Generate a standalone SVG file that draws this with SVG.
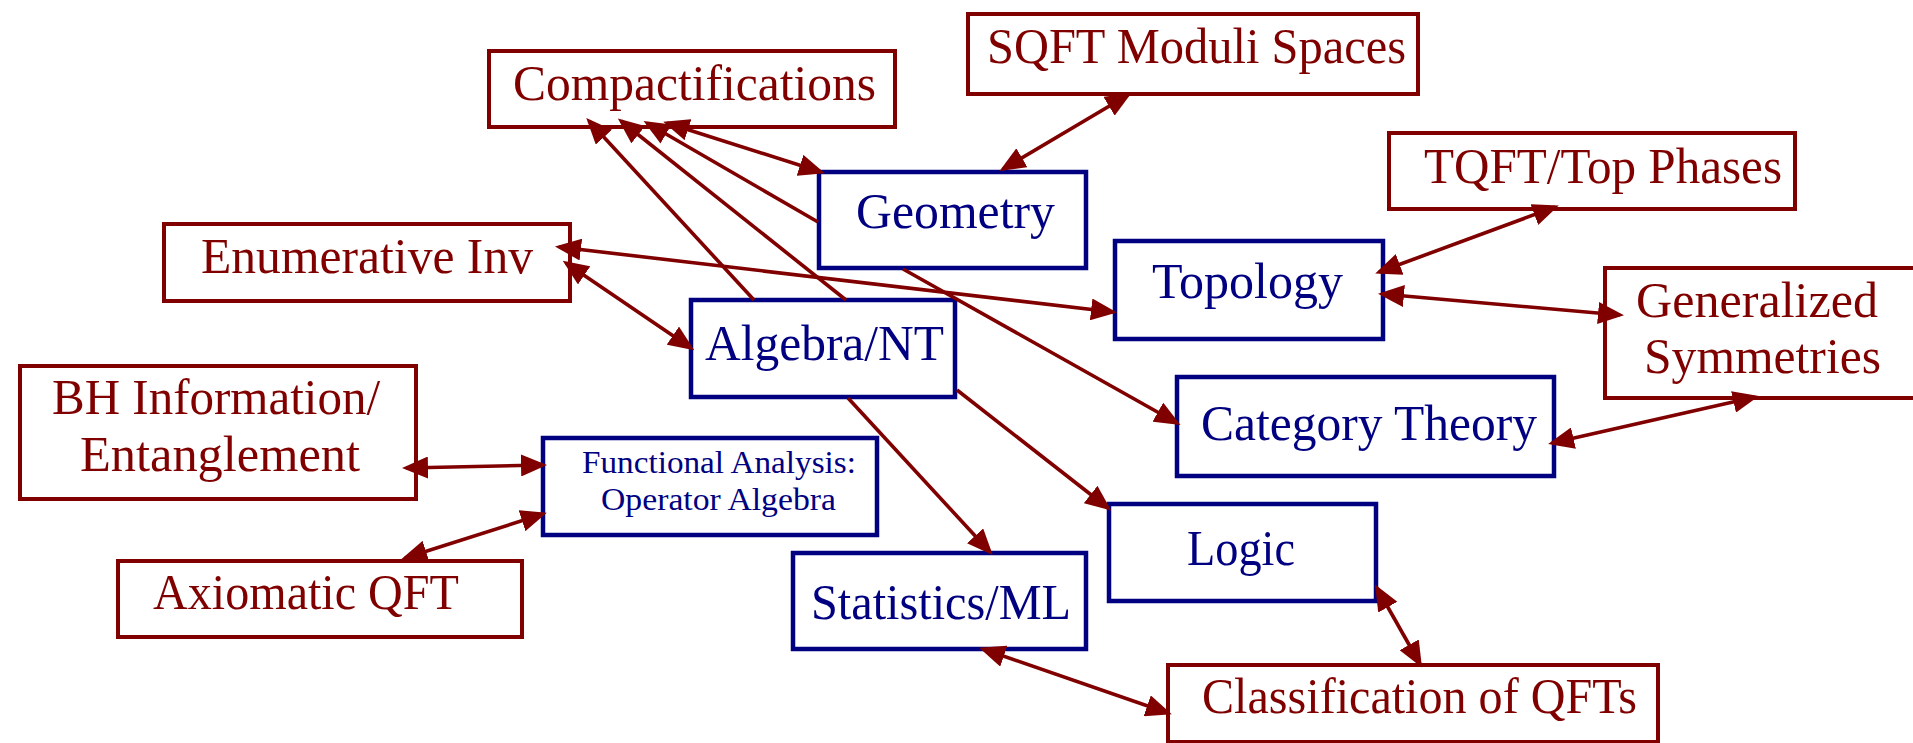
<svg xmlns="http://www.w3.org/2000/svg" width="1913" height="743" viewBox="0 0 1913 743">
<defs>
<style>
.rb{fill:#fff;stroke:#800000;stroke-width:4}
.bb{fill:#fff;stroke:#000080;stroke-width:4.5}
.rt{fill:#800000;font-family:"Liberation Serif","DejaVu Serif",serif;font-size:50px}
.bt{fill:#000080;font-family:"Liberation Serif","DejaVu Serif",serif;font-size:50px}
.st{font-size:31px}
.c{fill:none;stroke:#800000;stroke-width:3.6}
.s{marker-end:url(#ah)}
.d{marker-start:url(#ah);marker-end:url(#ah)}
</style>
<marker id="ah" markerUnits="userSpaceOnUse" viewBox="0 0 26 22" refX="22" refY="11" markerWidth="26" markerHeight="22" orient="auto-start-reverse">
<path d="M0,0 L26,11 L0,22 z" fill="#800000"/>
</marker>
</defs>
<rect width="1913" height="743" fill="#fff"/>
<g id="compactifications"><rect class="rb" x="489" y="51" width="406" height="76"/><text class="rt" x="513" y="100" textLength="363" lengthAdjust="spacingAndGlyphs">Compactifications</text></g>
<g id="sqft"><rect class="rb" x="968" y="14" width="450" height="80"/><text class="rt" x="987" y="63" textLength="419" lengthAdjust="spacingAndGlyphs">SQFT Moduli Spaces</text></g>
<g id="geometry"><rect class="bb" x="819" y="172" width="267" height="96"/><text class="bt" x="856" y="228" textLength="199" lengthAdjust="spacingAndGlyphs">Geometry</text></g>
<g id="enumerative"><rect class="rb" x="164" y="224" width="406" height="77"/><text class="rt" x="201" y="273" textLength="332" lengthAdjust="spacingAndGlyphs">Enumerative Inv</text></g>
<g id="algebra"><rect class="bb" x="691" y="300" width="264" height="97"/><text class="bt" x="705" y="360" textLength="239" lengthAdjust="spacingAndGlyphs">Algebra/NT</text></g>
<g id="tqft"><rect class="rb" x="1389" y="133" width="406" height="76"/><text class="rt" x="1424" y="183" textLength="358" lengthAdjust="spacingAndGlyphs">TQFT/Top Phases</text></g>
<g id="topology"><rect class="bb" x="1115" y="241" width="268" height="98"/><text class="bt" x="1152" y="298" textLength="191" lengthAdjust="spacingAndGlyphs">Topology</text></g>
<g id="generalized"><rect class="rb" x="1605" y="268" width="330" height="130"/><text class="rt" x="1636" y="317" textLength="242" lengthAdjust="spacingAndGlyphs">Generalized</text><text class="rt" x="1644" y="373" textLength="237" lengthAdjust="spacingAndGlyphs">Symmetries</text></g>
<g id="category"><rect class="bb" x="1177" y="377" width="377" height="99"/><text class="bt" x="1201" y="440" textLength="336" lengthAdjust="spacingAndGlyphs">Category Theory</text></g>
<g id="logic"><rect class="bb" x="1109" y="504" width="267" height="97"/><text class="bt" x="1187" y="565" textLength="108" lengthAdjust="spacingAndGlyphs">Logic</text></g>
<g id="statistics"><rect class="bb" x="793" y="553" width="293" height="96"/><text class="bt" x="811" y="619" textLength="260" lengthAdjust="spacingAndGlyphs">Statistics/ML</text></g>
<g id="classification"><rect class="rb" x="1168" y="665" width="490" height="77"/><text class="rt" x="1202" y="713" textLength="435" lengthAdjust="spacingAndGlyphs">Classification of QFTs</text></g>
<g id="bh"><rect class="rb" x="20" y="366" width="396" height="133"/><text class="rt" x="52" y="414" textLength="328" lengthAdjust="spacingAndGlyphs">BH Information/</text><text class="rt" x="80" y="471" textLength="280" lengthAdjust="spacingAndGlyphs">Entanglement</text></g>
<g id="functional"><rect class="bb" x="543" y="438" width="334" height="97"/><text class="bt st" x="582" y="473" textLength="274" lengthAdjust="spacingAndGlyphs">Functional Analysis:</text><text class="bt st" x="601" y="510" textLength="235" lengthAdjust="spacingAndGlyphs">Operator Algebra</text></g>
<g id="axiomatic"><rect class="rb" x="118" y="561" width="404" height="76"/><text class="rt" x="153" y="609" textLength="306" lengthAdjust="spacingAndGlyphs">Axiomatic QFT</text></g>
<g id="connectors">
<line class="c s" x1="754" y1="300" x2="589" y2="121"/>
<line class="c s" x1="846" y1="300" x2="621" y2="121"/>
<line class="c s" x1="818" y1="222" x2="647" y2="123"/>
<line class="c s" x1="903" y1="269" x2="1177" y2="423"/>
<line class="c s" x1="957" y1="390" x2="1108" y2="508"/>
<line class="c s" x1="848" y1="398" x2="990" y2="552"/>
<line class="c d" x1="667" y1="123" x2="821" y2="172"/>
<line class="c d" x1="1128" y1="95" x2="1003" y2="169"/>
<line class="c d" x1="559" y1="247" x2="1113" y2="312"/>
<line class="c d" x1="566" y1="263" x2="691" y2="348"/>
<line class="c d" x1="1555" y1="207" x2="1379" y2="272"/>
<line class="c d" x1="1382" y1="294" x2="1620" y2="315"/>
<line class="c d" x1="1552" y1="443" x2="1755" y2="397"/>
<line class="c d" x1="1377" y1="588" x2="1420" y2="664"/>
<line class="c d" x1="983" y1="649" x2="1168" y2="713"/>
<line class="c d" x1="406" y1="468" x2="543" y2="465"/>
<line class="c d" x1="405" y1="558" x2="543" y2="514"/>
</g>
</svg>
